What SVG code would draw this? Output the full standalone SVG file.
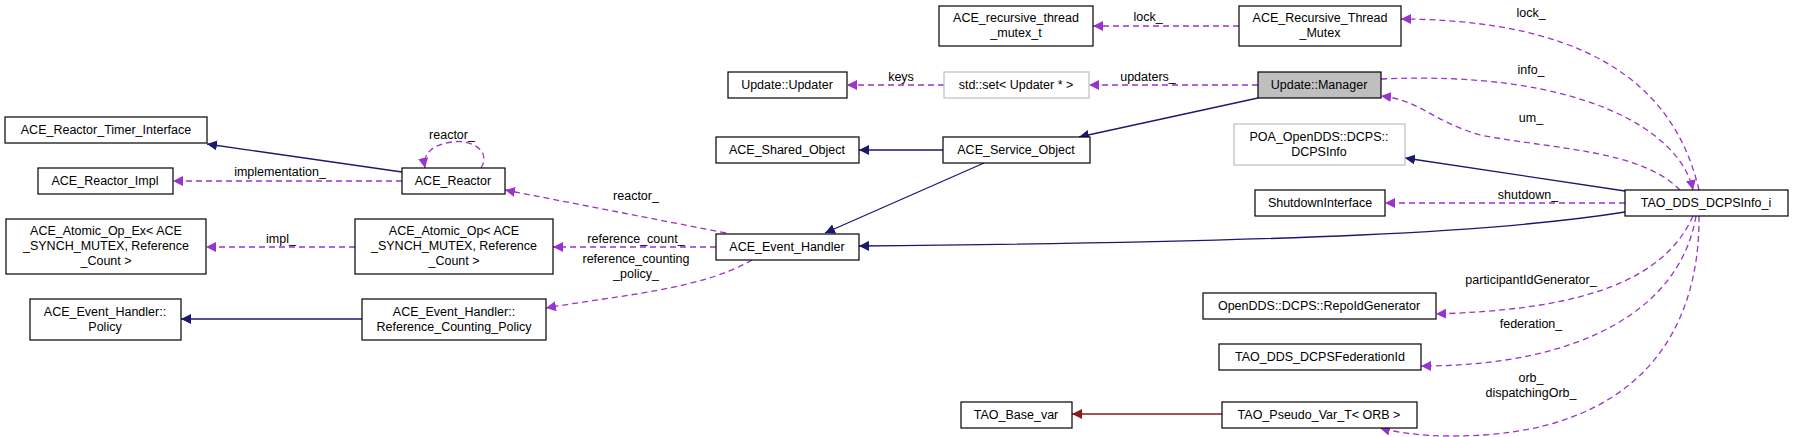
<svg xmlns="http://www.w3.org/2000/svg" width="1793" height="437" viewBox="0 0 1793 437">
<style>
text{font-family:"Liberation Sans",Arial,sans-serif;font-size:12.5px;fill:#000;text-anchor:middle}
.n rect{fill:#fff;stroke:#000;stroke-width:1.2}
.g rect{stroke:#bfbfbf}
.cur rect{fill:#bfbfbf}
.inh{fill:none;stroke:#191970;stroke-width:1.3}
.use{fill:none;stroke:#9a32cd;stroke-width:1.3;stroke-dasharray:6,4}
.red{fill:none;stroke:#8b1a1a;stroke-width:1.3}
</style>
<defs>
<marker id="ab" viewBox="0 0 10 10" refX="10" refY="5" markerWidth="10" markerHeight="10" markerUnits="userSpaceOnUse" orient="auto"><path d="M0,0L10,5L0,10z" fill="#191970"/></marker>
<marker id="ap" viewBox="0 0 10 10" refX="10" refY="5" markerWidth="10" markerHeight="10" markerUnits="userSpaceOnUse" orient="auto"><path d="M0,0L10,5L0,10z" fill="#9a32cd"/></marker>
<marker id="ar" viewBox="0 0 10 10" refX="10" refY="5" markerWidth="10" markerHeight="10" markerUnits="userSpaceOnUse" orient="auto"><path d="M0,0L10,5L0,10z" fill="#8b1a1a"/></marker>
</defs>
<g id="connectors">
<path class="inh" marker-end="url(#ab)" d="M402,172L207,144"/>
<path class="use" marker-end="url(#ap)" d="M402,181L173,181"/>
<path class="use" marker-end="url(#ap)" d="M481,168C492,150 470,139 452,142C435,144 422,152 425,168"/>
<path class="use" marker-end="url(#ap)" d="M726,233L505,190"/>
<path class="use" marker-end="url(#ap)" d="M716,247L553,247"/>
<path class="use" marker-end="url(#ap)" d="M355,247L206,247"/>
<path class="use" marker-end="url(#ap)" d="M752,260C700,290 620,295 546,308"/>
<path class="inh" marker-end="url(#ab)" d="M362,319L181,319"/>
<path class="inh" marker-end="url(#ab)" d="M943,150L859,150"/>
<path class="inh" marker-end="url(#ab)" d="M984,163L825,233"/>
<path class="inh" marker-end="url(#ab)" d="M1625,212C1500,232 1300,242 859,246"/>
<path class="inh" marker-end="url(#ab)" d="M1258,98L1079,137"/>
<path class="inh" marker-end="url(#ab)" d="M1625,191L1405,158"/>
<path class="use" marker-end="url(#ap)" d="M944,85L847,85"/>
<path class="use" marker-end="url(#ap)" d="M1258,85L1089,85"/>
<path class="use" marker-end="url(#ap)" d="M1239,26L1093,26"/>
<path class="use" marker-end="url(#ap)" d="M1699,190C1680,110 1620,20 1401,19"/>
<path class="use" marker-end="url(#ap)" d="M1381,79C1580,70 1680,130 1693,190"/>
<path class="use" marker-end="url(#ap)" d="M1680,190C1640,150 1560,150 1480,135C1430,120 1420,100 1381,96"/>
<path class="use" marker-end="url(#ap)" d="M1625,203L1385,203"/>
<path class="use" marker-end="url(#ap)" d="M1693,216C1660,290 1560,310 1436,314"/>
<path class="use" marker-end="url(#ap)" d="M1696,216C1680,310 1580,366 1421,366"/>
<path class="use" marker-end="url(#ap)" d="M1699,216C1700,330 1640,437 1450,436C1420,436 1395,432 1380,428"/>
<path class="red" marker-end="url(#ar)" d="M1222,414L1072,414"/>
<text x="280" y="176">implementation_</text>
<text x="452" y="139">reactor_</text>
<text x="636" y="200">reactor_</text>
<text x="636" y="243">reference_count_</text>
<text x="281" y="243">impl_</text>
<text x="636" y="263">reference_counting</text>
<text x="636" y="278">_policy_</text>
<text x="901" y="81">keys</text>
<text x="1148" y="81">updaters_</text>
<text x="1148" y="21">lock_</text>
<text x="1531" y="17">lock_</text>
<text x="1531" y="74">info_</text>
<text x="1531" y="122">um_</text>
<text x="1528" y="199">shutdown_</text>
<text x="1531" y="284">participantIdGenerator_</text>
<text x="1531" y="328">federation_</text>
<text x="1531" y="382">orb_</text>
<text x="1531" y="397">dispatchingOrb_</text>
</g>
<g id="n1" class="n"><rect x="5" y="117" width="202" height="26"/><text x="106" y="134">ACE_Reactor_Timer_Interface</text></g>
<g id="n2" class="n"><rect x="38" y="168" width="135" height="26"/><text x="105" y="185">ACE_Reactor_Impl</text></g>
<g id="n3" class="n"><rect x="402" y="168" width="103" height="26"/><text x="453" y="185">ACE_Reactor</text></g>
<g id="n4" class="n"><rect x="6" y="219" width="200" height="55"/><text x="106" y="235">ACE_Atomic_Op_Ex&lt; ACE</text><text x="106" y="250">_SYNCH_MUTEX, Reference</text><text x="106" y="265">_Count &gt;</text></g>
<g id="n5" class="n"><rect x="355" y="219" width="198" height="55"/><text x="454" y="235">ACE_Atomic_Op&lt; ACE</text><text x="454" y="250">_SYNCH_MUTEX, Reference</text><text x="454" y="265">_Count &gt;</text></g>
<g id="n6" class="n"><rect x="30" y="299" width="151" height="41"/><text x="105" y="316">ACE_Event_Handler::</text><text x="105" y="331">Policy</text></g>
<g id="n7" class="n"><rect x="362" y="299" width="184" height="41"/><text x="454" y="316">ACE_Event_Handler::</text><text x="454" y="331">Reference_Counting_Policy</text></g>
<g id="n8" class="n"><rect x="728" y="72" width="119" height="26"/><text x="787" y="89">Update::Updater</text></g>
<g id="n9" class="n"><rect x="716" y="137" width="143" height="26"/><text x="787" y="154">ACE_Shared_Object</text></g>
<g id="n10" class="n"><rect x="716" y="234" width="143" height="26"/><text x="787" y="251">ACE_Event_Handler</text></g>
<g id="n11" class="n"><rect x="939" y="6" width="154" height="40"/><text x="1016" y="22">ACE_recursive_thread</text><text x="1016" y="37">_mutex_t</text></g>
<g id="n12" class="n"><rect x="1239" y="6" width="162" height="40"/><text x="1320" y="22">ACE_Recursive_Thread</text><text x="1320" y="37">_Mutex</text></g>
<g id="n13" class="n g"><rect x="944" y="72" width="145" height="26"/><text x="1016" y="89">std::set&lt; Updater * &gt;</text></g>
<g id="n14" class="n cur"><rect x="1258" y="72" width="123" height="26"/><text x="1319" y="89">Update::Manager</text></g>
<g id="n15" class="n"><rect x="943" y="137" width="147" height="26"/><text x="1016" y="154">ACE_Service_Object</text></g>
<g id="n16" class="n g"><rect x="1234" y="124" width="171" height="41"/><text x="1319" y="141">POA_OpenDDS::DCPS::</text><text x="1319" y="156">DCPSInfo</text></g>
<g id="n17" class="n"><rect x="1255" y="190" width="130" height="26"/><text x="1320" y="207">ShutdownInterface</text></g>
<g id="n18" class="n"><rect x="1625" y="190" width="163" height="26"/><text x="1706" y="207">TAO_DDS_DCPSInfo_i</text></g>
<g id="n19" class="n"><rect x="1203" y="293" width="233" height="26"/><text x="1319" y="310">OpenDDS::DCPS::RepoIdGenerator</text></g>
<g id="n20" class="n"><rect x="1219" y="344" width="202" height="26"/><text x="1320" y="361">TAO_DDS_DCPSFederationId</text></g>
<g id="n21" class="n"><rect x="961" y="402" width="111" height="26"/><text x="1016" y="419">TAO_Base_var</text></g>
<g id="n22" class="n"><rect x="1222" y="402" width="195" height="26"/><text x="1319" y="419">TAO_Pseudo_Var_T&lt; ORB &gt;</text></g>
</svg>
